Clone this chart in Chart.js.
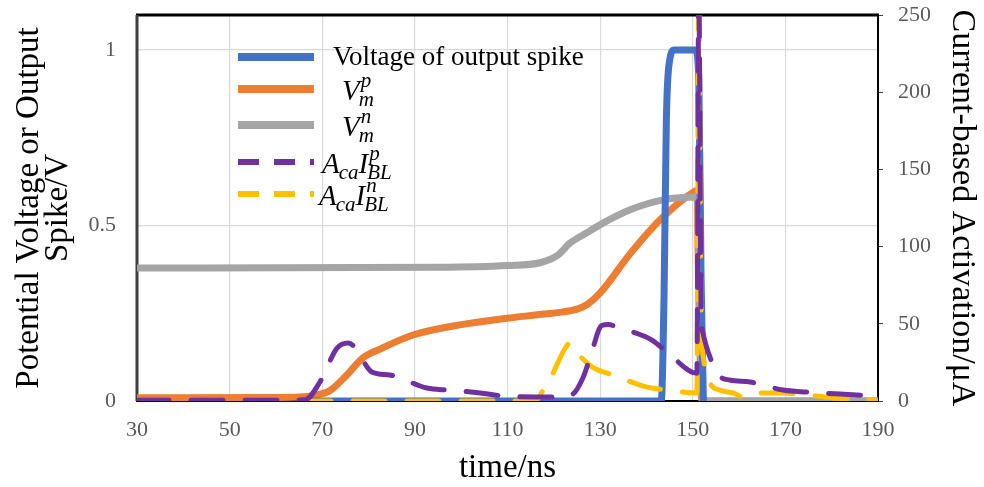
<!DOCTYPE html>
<html>
<head>
<meta charset="utf-8">
<script src="https://cdn.jsdelivr.net/npm/chart.js@4.4.0/dist/chart.umd.min.js"></script>
<style>
  html, body { margin: 0; padding: 0; background: #fff; }
  #wrap { width: 984px; height: 487px; }
</style>
</head>
<body>
<div id="wrap"><canvas id="cv" width="984" height="487"></canvas></div>
<script>
// axis ticks
var xTicks = [30, 50, 70, 90, 110, 130, 150, 170, 190];
var vTicks = [0, 0.5, 1];
var iTicks = [0, 50, 100, 150, 200, 250];

// Voltage of output spike (V)
var tSpike = [66, 143.2, 143.8, 144.3, 145.0, 146.0, 150.6, 151.3, 151.8, 152.3];
var vSpike = [0, 0, 0.3, 0.8, 0.97, 1, 1, 0.92, 0.35, 0];

// Vm^p (V)
var tVp = [30, 60, 66, 68, 71.7, 75.3, 78.8, 82.5, 89.6, 99.7, 109.9, 116, 122, 125, 127.2, 130, 136.5, 142.9, 150.1, 150.9, 151.3, 152, 190];
var vVp = [0.009, 0.01, 0.012, 0.015, 0.03, 0.074, 0.123, 0.148, 0.188, 0.217, 0.236, 0.245, 0.254, 0.262, 0.275, 0.308, 0.42, 0.516, 0.595, 0.6, 0.3, 0, 0];

// Vm^n (V)
var tVn = [30, 95, 110, 117, 120.7, 123.5, 127.2, 130.6, 136.5, 143.6, 151, 151.5, 152.2, 190];
var vVn = [0.379, 0.381, 0.386, 0.394, 0.414, 0.45, 0.48, 0.507, 0.545, 0.573, 0.581, 0.3, 0, 0];

// Aca*IBL^p (uA)
var tIp = [30, 60, 66.3, 69.5, 73.2, 75.6, 77, 80.7, 84.6, 92.6, 97, 99.7, 104.1, 109, 116.4, 120.7, 124.1, 126.3, 127.8, 130.4, 131.8, 134.3, 137.1, 141.2, 144.7, 150.9, 151.3, 151.8, 152.2, 153.7, 155.9, 158, 162.4, 169.5, 174.7, 181.8, 190];
var iIp = [0.5, 0.5, 0.8, 12.3, 34.3, 37.6, 35, 18.8, 16.8, 8.4, 7.1, 6.5, 5.2, 3.2, 2.6, 2.6, 4.5, 15, 27.8, 49, 49.5, 47, 44.7, 39.5, 31, 18, 270, 60, 44, 28.5, 16, 13.6, 12.3, 7.1, 5.8, 4.5, 3.2];

// Aca*IBL^n (uA)
var tIn = [30, 116, 117.7, 119.2, 120.9, 122.4, 123.5, 125.7, 128.3, 132.8, 140.2, 144.5, 150.9, 151.3, 151.8, 152.4, 153.7, 155.9, 158.7, 160.9, 164.5, 169.5, 174.7, 180.3, 188.3, 190];
var iIn = [0, 0, 7, 14, 25, 34, 37.6, 29, 22, 16.8, 9, 7.1, 5.2, 265, 60, 26, 11.7, 7, 5.2, 2.6, 5.2, 5.2, 3.9, 2, 0.6, 0];

function pts(t, v) {
  return t.map(function (x, i) { return { x: x, y: v[i] }; });
}

var serif = '"Liberation Serif", "Times New Roman", serif';
var tickGray = '#595959';

// legend drawn by hand so the sub/superscripts come out right
function drawParts(ctx, x, y, parts) {
  var supW = 0;
  parts.forEach(function (p) {
    var txt = p[0], kind = p[1], w;
    if (kind === 'n' || kind === 'i') {
      ctx.font = (kind === 'i' ? 'italic 29px ' : '27px ') + serif;
      ctx.fillText(txt, x, y);
      x += ctx.measureText(txt).width;
    } else if (kind === 'sup') {
      ctx.font = 'italic 21px ' + serif;
      ctx.fillText(txt, x + 1, y - 13);
      supW = ctx.measureText(txt).width + 1;
    } else {
      ctx.font = 'italic 21px ' + serif;
      ctx.fillText(txt, x - 1, y + 6);
      w = ctx.measureText(txt).width - 1;
      x += Math.max(w, supW);
      supW = 0;
    }
  });
}

var legendOrder = [2, 4, 3, 0, 1];
var legendPos = [
  { y: 57, tx: 333, base: 65 },
  { y: 89, tx: 342, base: 100 },
  { y: 125, tx: 342, base: 136 },
  { y: 162, tx: 322, base: 173 },
  { y: 194, tx: 319, base: 205 }
];

var mathLegend = {
  id: 'mathLegend',
  afterDraw: function (chart) {
    var ctx = chart.ctx;
    ctx.save();
    legendOrder.forEach(function (di, k) {
      var ds = chart.data.datasets[di];
      var pos = legendPos[k];
      ctx.beginPath();
      ctx.strokeStyle = ds.borderColor;
      ctx.lineWidth = ds.borderDash.length ? 6 : 8;
      ctx.setLineDash(ds.borderDash.length ? [21, 15] : []);
      ctx.lineCap = 'butt';
      ctx.moveTo(238, pos.y);
      ctx.lineTo(314, pos.y);
      ctx.stroke();
      ctx.setLineDash([]);
      ctx.fillStyle = '#000';
      ctx.textBaseline = 'alphabetic';
      ctx.textAlign = 'left';
      drawParts(ctx, pos.tx, pos.base, ds.mathLabel);
    });
    ctx.restore();
  }
};

var frame = {
  id: 'frame',
  beforeDatasetsDraw: function (chart) {
    var a = chart.chartArea, ctx = chart.ctx;
    ctx.save();
    ctx.strokeStyle = '#000';
    ctx.lineWidth = 2;
    ctx.strokeRect(a.left, a.top, a.right - a.left, a.bottom - a.top);
    ctx.lineWidth = 3;
    ctx.beginPath();
    ctx.moveTo(a.left - 1, a.top);
    ctx.lineTo(a.right + 1, a.top);
    ctx.stroke();
    ctx.strokeStyle = '#404040';
    ctx.beginPath();
    ctx.moveTo(a.left, a.top);
    ctx.lineTo(a.left, a.bottom);
    ctx.stroke();
    ctx.restore();
  }
};

function noPad(s) {
  s.paddingTop = 0; s.paddingBottom = 0; s.paddingLeft = 0; s.paddingRight = 0;
}

function plainNum(v) { return String(v); }

var dashed = [32, 22];

var chart = new Chart(document.getElementById('cv'), {
  type: 'line',
  data: {
    datasets: [
      {
        label: 'AcaIBL^p', mathLabel: [['A', 'i'], ['ca', 'sub'], ['I', 'i'], ['p', 'sup'], ['BL', 'sub']],
        data: pts(tIp, iIp), yAxisID: 'y1',
        borderColor: '#7030A0', borderWidth: 5, borderDash: dashed
      },
      {
        label: 'AcaIBL^n', mathLabel: [['A', 'i'], ['ca', 'sub'], ['I', 'i'], ['n', 'sup'], ['BL', 'sub']],
        data: pts(tIn, iIn), yAxisID: 'y1',
        borderColor: '#FFC000', borderWidth: 5, borderDash: dashed
      },
      {
        label: 'Voltage of output spike', mathLabel: [['Voltage of output spike', 'n']],
        data: pts(tSpike, vSpike), yAxisID: 'y',
        borderColor: '#4472C4', borderWidth: 7, borderDash: []
      },
      {
        label: 'Vm^n', mathLabel: [['V', 'i'], ['n', 'sup'], ['m', 'sub']],
        data: pts(tVn, vVn), yAxisID: 'y',
        borderColor: '#A5A5A5', borderWidth: 7, borderDash: []
      },
      {
        label: 'Vm^p', mathLabel: [['V', 'i'], ['p', 'sup'], ['m', 'sub']],
        data: pts(tVp, vVp), yAxisID: 'y',
        borderColor: '#ED7D31', borderWidth: 7, borderDash: []
      }
    ]
  },
  options: {
    responsive: false,
    animation: false,
    layout: { padding: { top: 15, left: 0, right: 0, bottom: 0 } },
    elements: {
      point: { radius: 0 },
      line: { cubicInterpolationMode: 'monotone', borderCapStyle: 'round', borderJoinStyle: 'round', fill: false }
    },
    plugins: {
      legend: { display: false },
      tooltip: { enabled: false }
    },
    scales: {
      x: {
        type: 'linear', min: 30, max: 190,
        afterBuildTicks: function (s) { s.ticks = xTicks.map(function (v) { return { value: v }; }); },
        ticks: { color: tickGray, font: { family: serif, size: 22 }, padding: 16, maxRotation: 0, callback: plainNum },
        grid: { color: '#d9d9d9', lineWidth: 1.2, drawTicks: false },
        border: { display: false },
        title: { display: true, text: 'time/ns', color: '#000', font: { family: serif, size: 33, lineHeight: 1 }, padding: { top: 0, bottom: 2 } },
        afterFit: function (s) { s.height = 86; noPad(s); }
      },
      y: {
        position: 'left', min: 0, max: 1.1,
        afterBuildTicks: function (s) { s.ticks = vTicks.map(function (v) { return { value: v }; }); },
        ticks: { color: tickGray, font: { family: serif, size: 22 }, padding: 21, callback: plainNum },
        grid: { color: '#d9d9d9', lineWidth: 1.2, drawTicks: false },
        border: { display: false },
        title: { display: true, text: ['Potential Voltage or Output', 'Spike/V'], color: '#000', font: { family: serif, size: 33, lineHeight: 0.9 }, padding: { top: 14, bottom: 0 } },
        afterFit: function (s) { s.width = 137; noPad(s); }
      },
      y1: {
        position: 'right', min: 0, max: 250,
        afterBuildTicks: function (s) { s.ticks = iTicks.map(function (v) { return { value: v }; }); },
        ticks: { color: tickGray, font: { family: serif, size: 22 }, padding: 15, callback: plainNum },
        grid: { drawOnChartArea: false, tickLength: 5, color: '#404040' },
        border: { display: false },
        title: { display: true, text: 'Current-based Activation/\u03bcA', color: '#000', font: { family: serif, size: 34, lineHeight: 1 }, padding: { top: 5, bottom: 0 } },
        afterFit: function (s) { s.width = 106; noPad(s); }
      }
    }
  },
  plugins: [frame, mathLegend]
});
</script>
</body>
</html>
